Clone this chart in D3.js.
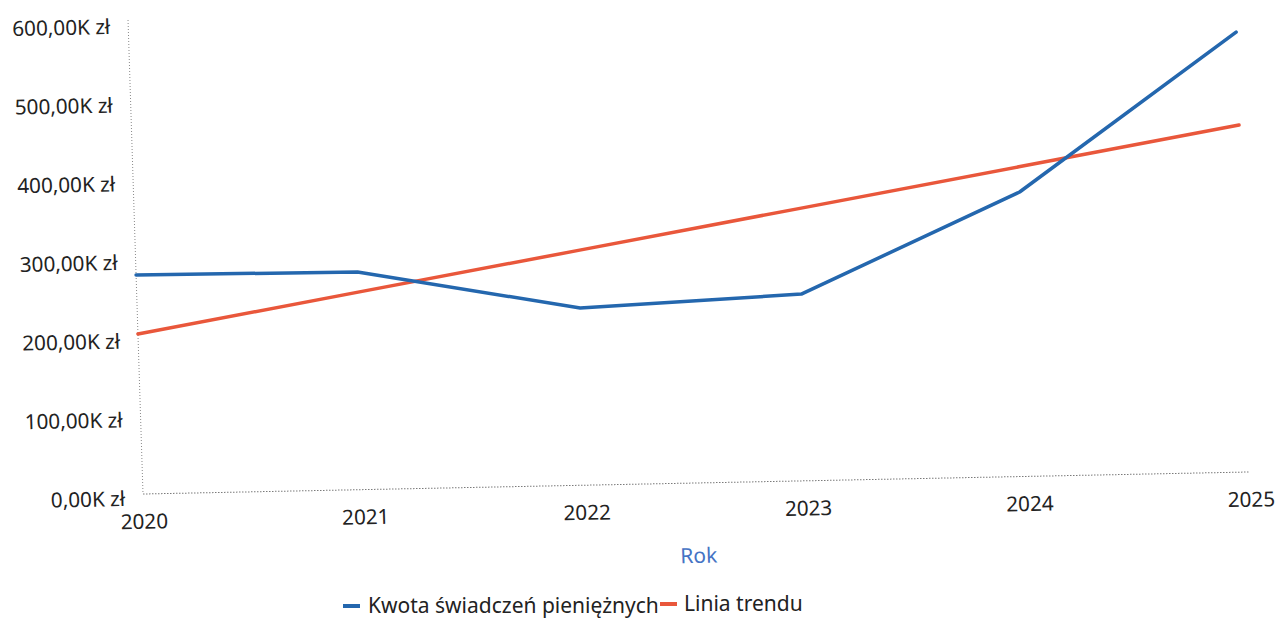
<!DOCTYPE html>
<html>
<head>
<meta charset="utf-8">
<script src="https://cdn.jsdelivr.net/npm/d3@7"></script>
<style>
  body { margin: 0; background: #fff; }
  svg { display: block; font-family: "Noto Sans", "Open Sans", sans-serif; }
</style>
</head>
<body>
<svg id="chart"></svg>
<script>
// Kwota świadczeń pieniężnych + linia trendu
const width = 1278;
const height = 621;

const years = [2020, 2021, 2022, 2023, 2024, 2025];
const kwota = [278400, 276600, 225200, 237300, 361500, 559200];
const trend = [203400, 251000, 298500, 346000, 393500, 441000];
const yTicks = [0, 100000, 200000, 300000, 400000, 500000, 600000];

const seriesNames = ["Kwota świadczeń pieniężnych", "Linia trendu"];
const blue = "#2467ae";
const orange = "#e9573b";

const svg = d3.select("#chart")
    .attr("width", width)
    .attr("height", height);

svg.append("rect").attr("width", width).attr("height", height).attr("fill", "#fff");

// plot frame (the scan is slightly skewed, so the plot group gets a small shear)
const x0 = 143, x1 = 1250, yBottom = 494, yTop = 22;

const plot = svg.append("g")
    .attr("transform", `translate(${x0},${yBottom}) matrix(1,-0.0199,0.0316,1,0,0) translate(${-x0},${-yBottom})`);

const x = d3.scaleLinear().domain([2020, 2025]).range([x0, x1]);
const y = d3.scaleLinear().domain([0, 600000]).range([yBottom, yTop]);

// dotted frame lines
plot.append("line")
    .attr("x1", x0).attr("x2", x0)
    .attr("y1", y(600000) - 2).attr("y2", y(0))
    .attr("stroke", "#8a8a8a").attr("stroke-width", 1)
    .attr("stroke-dasharray", "1,2");

plot.append("line")
    .attr("x1", x0).attr("x2", x1)
    .attr("y1", y(0)).attr("y2", y(0))
    .attr("stroke", "#7a7a7a").attr("stroke-width", 1)
    .attr("stroke-dasharray", "1.5,1.5");

// y axis
const yAxis = plot.append("g")
    .attr("transform", `translate(${x0},0)`)
    .call(d3.axisLeft(y)
        .tickValues(yTicks)
        .tickSize(0)
        .tickPadding(18)
        .tickFormat(v => (v / 1000).toFixed(2).replace(".", ",") + "K zł"));
yAxis.select(".domain").remove();
yAxis.selectAll("text")
    .attr("y", 4.5)
    .attr("font-size", 20.7)
    .attr("font-family", "Noto Sans, Open Sans, sans-serif")
    .attr("fill", "#222");

// x axis
const xAxis = plot.append("g")
    .attr("transform", `translate(0,${yBottom})`)
    .call(d3.axisBottom(x)
        .tickValues(years)
        .tickSize(0)
        .tickPadding(20)
        .tickFormat(d3.format("d")));
xAxis.select(".domain").remove();
xAxis.selectAll("text")
    .attr("font-size", 20.7)
    .attr("font-family", "Noto Sans, Open Sans, sans-serif")
    .attr("fill", "#222");

plot.append("text")
    .attr("x", (x0 + x1) / 2)
    .attr("y", 574)
    .attr("text-anchor", "middle")
    .attr("font-size", 21)
    .attr("fill", "#4573c4")
    .text("Rok");

// lines
const line = d3.line()
    .x((d, i) => x(years[i]))
    .y(d => y(d));

plot.append("path")
    .datum(trend)
    .attr("d", line)
    .attr("fill", "none")
    .attr("stroke", orange)
    .attr("stroke-width", 3.5)
    .attr("stroke-linecap", "round");

plot.append("path")
    .datum(kwota)
    .attr("d", line)
    .attr("fill", "none")
    .attr("stroke", blue)
    .attr("stroke-width", 3.5)
    .attr("stroke-linejoin", "round")
    .attr("stroke-linecap", "round");

// legend
const legend = svg.append("g").attr("transform", "translate(343,606)");
const legendX = [0, 317];
const legendColors = [blue, orange];
seriesNames.forEach((name, i) => {
    const item = legend.append("g").attr("transform", `translate(${legendX[i]},${i === 0 ? 0 : -2})`);
    item.append("line")
        .attr("x1", 0).attr("x2", 17)
        .attr("y1", 0).attr("y2", 0)
        .attr("stroke", legendColors[i])
        .attr("stroke-width", 4);
    item.append("text")
        .attr("x", i === 0 ? 25 : 24)
        .attr("y", 0)
        .attr("dy", "0.35em")
        .attr("font-size", 21)
        .attr("fill", "#222")
        .text(name);
});
</script>
</body>
</html>
